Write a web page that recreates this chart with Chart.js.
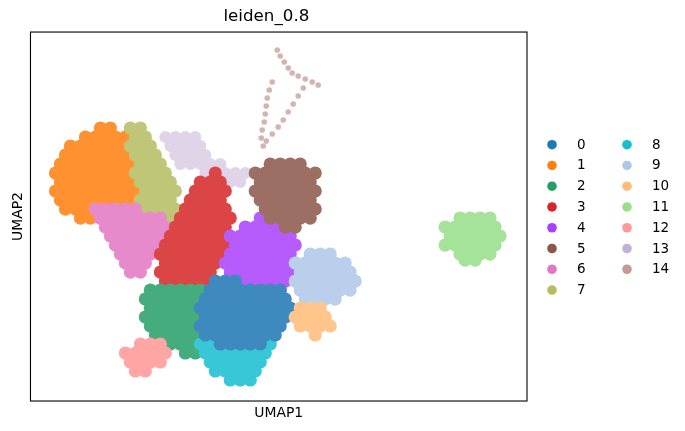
<!DOCTYPE html>
<html>
<head>
<meta charset="utf-8">
<script src="https://cdn.jsdelivr.net/npm/chart.js@4/dist/chart.umd.min.js"></script>
<style>
  html, body { margin: 0; padding: 0; background: #fff; }
  #wrap { width: 685px; height: 431px; position: relative; }
</style>
</head>
<body>
<div id="wrap"><canvas id="umap"></canvas></div>
<script>
// leiden clusters, UMAP coordinates.
// Each row is [UMAP2, [UMAP1 values along that row]]
const clusterLabels = ['0', '1', '2', '3', '4', '5', '6', '7', '8', '9', '10', '11', '12', '13', '14'];

const cluster0 = [
  [12.0, [18.5, 19.5, 20.5]],
  [11.1, [18, 19, 20, 21, 22, 23, 24, 25]],
  [10.2, [17.5, 18.5, 19.5, 20.5, 21.5, 22.5, 23.5, 24.5, 25.5]],
  [9.3, [17, 18, 19, 20, 21, 22, 23, 24, 25, 26]],
  [8.4, [17.5, 18.5, 19.5, 20.5, 21.5, 22.5, 23.5, 24.5, 25.5]],
  [7.5, [17, 18, 19, 20, 21, 22, 23, 24, 25]],
  [6.6, [17.5, 18.5, 19.5, 20.5, 21.5, 22.5, 23.5, 24.5]],
  [5.7, [19, 20, 21, 22, 23]]
];
const cluster1 = [
  [27.3, [7, 8]],
  [26.4, [5.5, 6.5, 7.5, 8.5, 9.5]],
  [25.5, [4, 5, 6, 7, 8, 9, 10]],
  [24.6, [3.5, 4.5, 5.5, 6.5, 7.5, 8.5, 9.5]],
  [23.7, [3, 4, 5, 6, 7, 8, 9, 10]],
  [22.8, [2.5, 3.5, 4.5, 5.5, 6.5, 7.5, 8.5, 9.5]],
  [21.9, [3, 4, 5, 6, 7, 8, 9, 10]],
  [21.0, [2.5, 3.5, 4.5, 5.5, 6.5, 7.5, 8.5, 9.5, 10.5]],
  [20.1, [3, 4, 5, 6, 7, 8, 9, 10]],
  [19.2, [3.5, 4.5, 5.5, 6.5, 7.5, 8.5, 9.5]],
  [18.3, [5, 6, 7]]
];
const cluster2 = [
  [11.1, [12, 13, 14, 15, 16, 17]],
  [10.2, [11.5, 12.5, 13.5, 14.5, 15.5, 16.5, 17.5]],
  [9.3, [12, 13, 14, 15, 16, 17]],
  [8.4, [11.5, 12.5, 13.5, 14.5, 15.5, 16.5, 17.5]],
  [7.5, [12, 13, 14, 15, 16, 17]],
  [6.6, [12.5, 13.5, 14.5, 15.5, 16.5, 17.5]],
  [5.7, [13, 14, 15, 16, 17]],
  [4.8, [15.5, 16.5]]
];
const cluster3 = [
  [22.8, [18.5]],
  [21.9, [17, 18, 19]],
  [21.0, [16.5, 17.5, 18.5, 19.5]],
  [20.1, [16, 17, 18, 19]],
  [19.2, [15.5, 16.5, 17.5, 18.5, 19.5]],
  [18.3, [15, 16, 17, 18, 19, 20]],
  [17.4, [14.5, 15.5, 16.5, 17.5, 18.5, 19.5]],
  [16.5, [14, 15, 16, 17, 18, 19]],
  [15.6, [13.5, 14.5, 15.5, 16.5, 17.5, 18.5, 19.5]],
  [14.7, [13, 14, 15, 16, 17, 18, 19]],
  [13.8, [13.5, 14.5, 15.5, 16.5, 17.5, 18.5]],
  [12.9, [13, 14, 15, 16, 17, 18]],
  [12.0, [13.5, 14.5, 15.5, 16.5, 17.5]]
];
const cluster4 = [
  [18.3, [23, 24]],
  [17.4, [21.5, 22.5, 23.5, 24.5, 25.5]],
  [16.5, [20, 21, 22, 23, 24, 25, 26]],
  [15.6, [20.5, 21.5, 22.5, 23.5, 24.5, 25.5, 26.5]],
  [14.7, [20, 21, 22, 23, 24, 25, 26]],
  [13.8, [19.5, 20.5, 21.5, 22.5, 23.5, 24.5, 25.5, 26.5]],
  [12.9, [20, 21, 22, 23, 24, 25, 26]],
  [12.0, [20.5, 21.5, 22.5, 23.5, 24.5, 25.5]],
  [11.1, [21, 22, 23, 24, 25]],
  [10.2, [22.5, 23.5, 24.5]]
];
const cluster5 = [
  [23.7, [24, 25, 26, 27]],
  [22.8, [22.5, 23.5, 24.5, 25.5, 26.5, 27.5, 28.5]],
  [21.9, [23, 24, 25, 26, 27, 28]],
  [21.0, [22.5, 23.5, 24.5, 25.5, 26.5, 27.5, 28.5]],
  [20.1, [23, 24, 25, 26, 27, 28]],
  [19.2, [23.5, 24.5, 25.5, 26.5, 27.5, 28.5]],
  [18.3, [24, 25, 26, 27, 28]],
  [17.4, [25.5, 26.5]]
];
const cluster6 = [
  [19.2, [6.5, 7.5, 8.5, 9.5, 10.5]],
  [18.3, [7, 8, 9, 10, 11, 12, 13]],
  [17.4, [7.5, 8.5, 9.5, 10.5, 11.5, 12.5, 13.5]],
  [16.5, [8, 9, 10, 11, 12, 13]],
  [15.6, [8.5, 9.5, 10.5, 11.5, 12.5, 13.5]],
  [14.7, [9, 10, 11, 12, 13]],
  [13.8, [9.5, 10.5, 11.5]],
  [12.9, [10, 11]]
];
const cluster7 = [
  [27.3, [10, 11]],
  [26.4, [10.5, 11.5]],
  [25.5, [10, 11, 12]],
  [24.6, [10.5, 11.5, 12.5]],
  [23.7, [11, 12, 13]],
  [22.8, [10.5, 11.5, 12.5, 13.5]],
  [21.9, [11, 12, 13, 14]],
  [21.0, [11.5, 12.5, 13.5, 14.5]],
  [20.1, [11, 12, 13, 14]],
  [19.2, [11.5, 12.5, 13.5, 14.5]],
  [18.3, [12, 13, 14]],
  [17.4, [13.5, 14.5]]
];
const cluster8 = [
  [5.7, [17, 18, 19, 20, 21, 22, 23, 24]],
  [4.8, [17.5, 18.5, 19.5, 20.5, 21.5, 22.5, 23.5]],
  [3.9, [18, 19, 20, 21, 22, 23]],
  [3.0, [18.5, 19.5, 20.5, 21.5, 22.5]],
  [2.1, [20, 21, 22]]
];
const cluster9 = [
  [14.7, [28, 29, 30]],
  [13.8, [26.5, 27.5, 28.5, 29.5, 30.5, 31.5]],
  [12.9, [27, 28, 29, 30, 31, 32]],
  [12.0, [26.5, 27.5, 28.5, 29.5, 30.5, 31.5, 32.5]],
  [11.1, [27, 28, 29, 30, 31, 32]],
  [10.2, [27.5, 28.5, 29.5, 30.5]]
];
const cluster10 = [
  [9.3, [27, 28, 29]],
  [8.4, [26.5, 27.5, 28.5, 29.5]],
  [7.5, [27, 28, 29, 30]],
  [6.6, [28.5]]
];
const cluster11 = [
  [18.3, [43, 44, 45, 46]],
  [17.4, [41.5, 42.5, 43.5, 44.5, 45.5, 46.5]],
  [16.5, [42, 43, 44, 45, 46, 47]],
  [15.6, [41.5, 42.5, 43.5, 44.5, 45.5, 46.5]],
  [14.7, [43, 44, 45, 46]],
  [14.1, [43.5, 44.5]]
];
const cluster12 = [
  [5.7, [11, 12, 13]],
  [4.8, [9.5, 10.5, 11.5, 12.5, 13.5]],
  [3.9, [10, 11, 12, 13]],
  [3.0, [10.5, 11.5]]
];
const cluster13 = [
  [26.4, [13.5, 14.5, 15.5, 16.5]],
  [25.5, [14, 15, 16, 17]],
  [24.6, [14.5, 15.5, 16.5, 17.5]],
  [23.7, [15, 16, 17, 18, 19]],
  [22.8, [17.5, 18.5, 19.5, 20.5, 21.5]],
  [21.9, [20, 21]]
];
// cluster 14 is a thin trail: explicit [UMAP1, UMAP2] pairs
const cluster14 = [
  [24.7, 35.1], [25.0, 34.5], [25.4, 33.9], [25.8, 33.3], [26.2, 32.8],
  [26.8, 32.5], [27.5, 32.2], [28.2, 31.9], [28.8, 31.6],
  [27.3, 31.3], [26.8, 30.5], [26.3, 29.7], [25.8, 28.9], [25.3, 28.1],
  [24.8, 27.4], [24.2, 26.7], [23.6, 26.0], [23.3, 25.5],
  [24.2, 31.9], [23.9, 31.1], [23.7, 30.3], [23.6, 29.5], [23.5, 28.7],
  [23.4, 27.9], [23.2, 27.1], [23.1, 26.3]
];

const clusterRows = [cluster0, cluster1, cluster2, cluster3, cluster4, cluster5, cluster6,
  cluster7, cluster8, cluster9, cluster10, cluster11, cluster12, cluster13];

// scanpy default palette
const palette = ['#1f77b4', '#ff7f0e', '#279e68', '#d62728', '#aa40fc', '#8c564b', '#e377c2',
  '#b5bd61', '#17becf', '#aec7e8', '#ffbb78', '#98df8a', '#ff9896', '#c5b0d5', '#c49c94'];
// lower order = drawn on top
const drawOrder = [5, 12, 7, 9, 8, 1, 10, 11, 6, 4, 3, 0, 2, 14, 13];

// blend a colour with white a little, the dense clouds have white speckle in them
function soften(hex, w) {
  const n = parseInt(hex.slice(1), 16);
  const mix = (c) => Math.round(c + (255 - c) * w);
  return `rgb(${mix((n >> 16) & 255)},${mix((n >> 8) & 255)},${mix(n & 255)})`;
}
function hexToRgba(hex, a) {
  const n = parseInt(hex.slice(1), 16);
  return `rgba(${(n >> 16) & 255},${(n >> 8) & 255},${n & 255},${a})`;
}

const toPoints = (rows) => rows.flatMap(([y, xs]) => xs.map((x) => ({ x, y })));

const datasets = clusterLabels.map((label, i) => {
  const pts = i < 14 ? toPoints(clusterRows[i]) : cluster14.map(([x, y]) => ({ x, y }));
  let radius = 6.6;
  let color = soften(palette[i], 0.14);
  if (i === 13) { radius = 6.0; color = soften(palette[i], 0.45); }
  if (i === 14) { radius = 2.8; color = hexToRgba(palette[i], 0.75); }
  return {
    label,
    data: pts,
    order: drawOrder[i],
    pointRadius: radius,
    pointHoverRadius: radius,
    pointBorderWidth: 0,
    backgroundColor: color,
    borderColor: 'rgba(0,0,0,0)',
  };
});

const FONT = 'DejaVu Sans';

// full black frame around the plot area
const framePlugin = {
  id: 'frame',
  afterDatasetsDraw(chart) {
    const { ctx, chartArea: a } = chart;
    ctx.save();
    ctx.strokeStyle = '#000';
    ctx.lineWidth = 1.1;
    ctx.strokeRect(a.left, a.top, a.right - a.left, a.bottom - a.top);
    ctx.restore();
  },
};

// two-column legend on the right, like matplotlib's
const legendPlugin = {
  id: 'twoColLegend',
  afterDraw(chart) {
    const { ctx } = chart;
    const perCol = 8;
    ctx.save();
    ctx.font = `13.5px "${FONT}"`;
    ctx.textBaseline = 'middle';
    ctx.textAlign = 'left';
    chart.data.datasets.forEach((ds, i) => {
      const col = Math.floor(i / perCol);
      const row = i % perCol;
      const mx = 552 + col * 75;
      const my = 144.7 + row * 20.76;
      ctx.fillStyle = palette[i];
      ctx.beginPath();
      ctx.arc(mx, my, 4.8, 0, Math.PI * 2);
      ctx.fill();
      ctx.fillStyle = '#000';
      ctx.fillText(ds.label, mx + 25, my + 0.5);
    });
    ctx.restore();
  },
};

new Chart(document.getElementById('umap'), {
  type: 'scatter',
  data: { datasets },
  options: {
    responsive: true,
    maintainAspectRatio: false,
    animation: false,
    layout: {
      padding: { left: 5.8, right: 158, top: 0, bottom: 5.3 },
    },
    plugins: {
      legend: { display: false },
      tooltip: { enabled: false },
      title: {
        display: true,
        text: 'leiden_0.8',
        color: '#000',
        font: { family: FONT, size: 16.7, weight: 'normal' },
        padding: { top: 7, bottom: 5 },
      },
    },
    scales: {
      x: {
        type: 'linear',
        min: 0,
        max: 49.7,
        ticks: { display: false },
        grid: { display: false, drawTicks: false },
        border: { display: false },
        title: {
          display: true,
          text: 'UMAP1',
          color: '#000',
          font: { family: FONT, size: 13.9 },
          padding: { top: 4, bottom: 4 },
        },
      },
      y: {
        type: 'linear',
        min: 0,
        max: 36.9,
        ticks: { display: false },
        grid: { display: false, drawTicks: false },
        border: { display: false },
        title: {
          display: true,
          text: 'UMAP2',
          color: '#000',
          font: { family: FONT, size: 13.9 },
          padding: { top: 4, bottom: 4 },
        },
      },
    },
  },
  plugins: [framePlugin, legendPlugin],
});
</script>
</body>
</html>
